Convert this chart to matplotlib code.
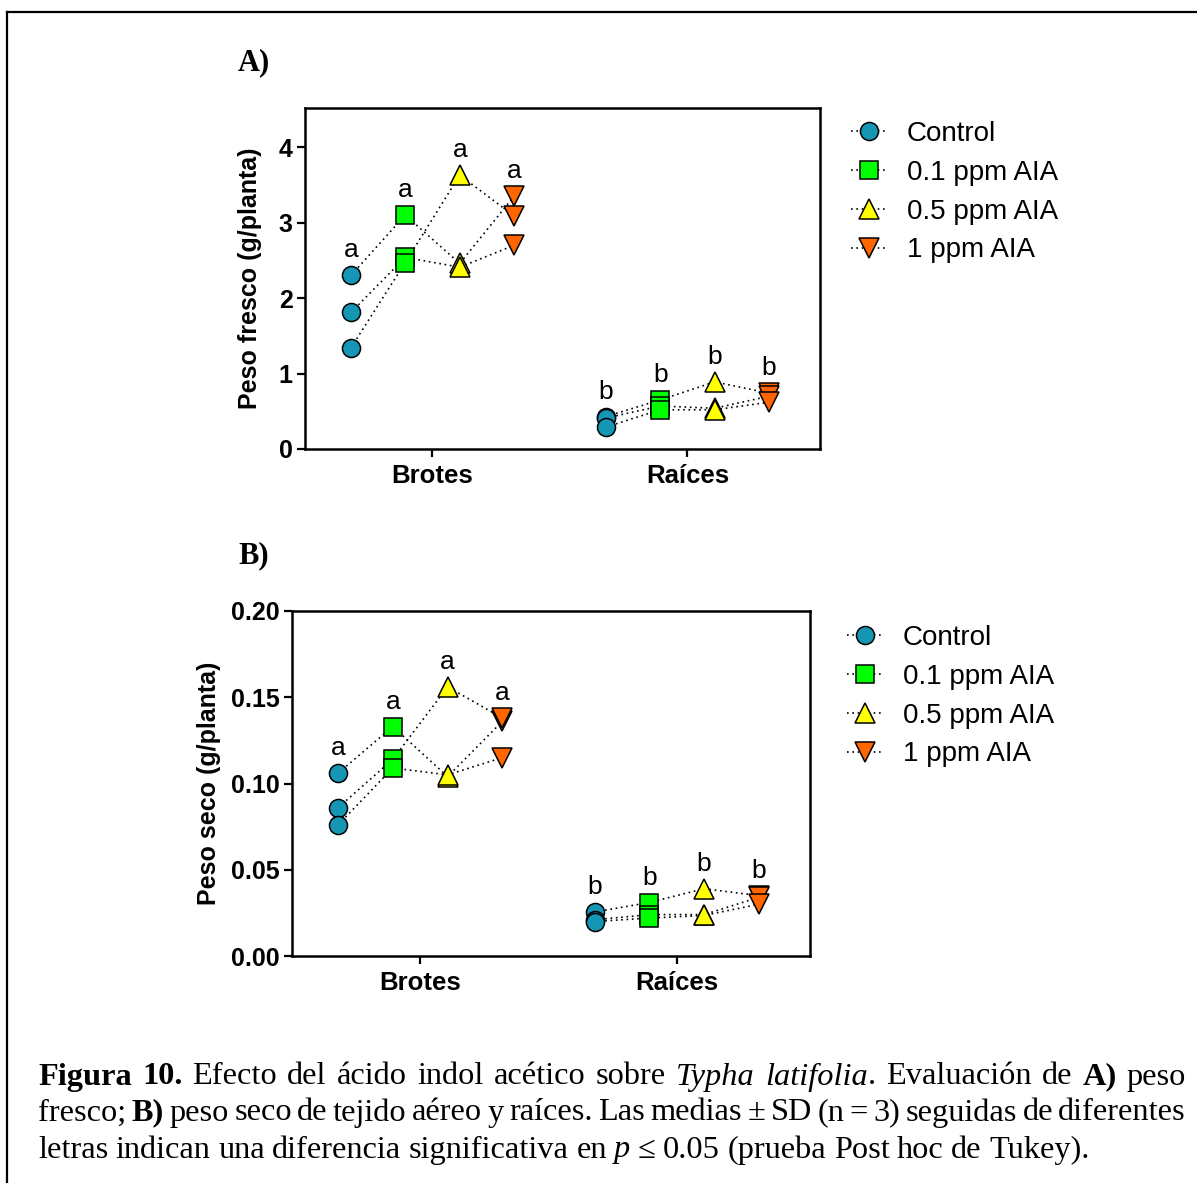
import matplotlib
matplotlib.use("Agg")
import matplotlib.pyplot as plt
from matplotlib.lines import Line2D
import numpy as np

# categories and treatments
tissues = ["Brotes", "Raíces"]
treatments = ["Control", "0.1 ppm AIA", "0.5 ppm AIA", "1 ppm AIA"]
colors = ["#1496b4", "#00ff00", "#ffff00", "#ff6600"]
markers = ["o", "s", "^", "v"]
msizes = [13, 13, 14, 14]

# fresh weight (g/planta), 3 replicates per treatment
fresh_brotes = [[2.30, 1.81, 1.34],
                [3.10, 2.54, 2.47],
                [2.46, 2.41, 3.63],
                [3.35, 2.70, 3.09]]
fresh_raices = [[0.43, 0.41, 0.29],
                [0.65, 0.57, 0.52],
                [0.89, 0.54, 0.52],
                [0.74, 0.70, 0.62]]

# dry weight (g/planta)
dry_brotes = [[0.106, 0.086, 0.076],
              [0.133, 0.114, 0.109],
              [0.104, 0.156, 0.105],
              [0.136, 0.138, 0.115]]
dry_raices = [[0.0255, 0.021, 0.020],
              [0.031, 0.024, 0.022],
              [0.039, 0.024, 0.0235],
              [0.035, 0.034, 0.030]]

letters_brotes = ["a", "a", "a", "a"]
letters_raices = ["b", "b", "b", "b"]

offsets = [-0.32, -0.107, 0.107, 0.32]

W, H = 1197, 1183
fig = plt.figure(figsize=(W / 100, H / 100), dpi=100)

def px(x, y):
    return x / W, 1 - y / H

sans = ["Liberation Sans", "DejaVu Sans"]
serif = ["Liberation Serif", "DejaVu Serif"]


def panel(rect, data, yticks, ylim, fmt, ylabel, legend_at, labelpad):
    ax = fig.add_axes(rect)
    for ti, groups in enumerate(data):
        letters = letters_brotes if ti == 0 else letters_raices
        xs = [ti + o for o in offsets]
        # replicate lines
        for r in range(3):
            ax.plot(xs, [g[r] for g in groups], color="black", ls=(0, (1, 2.2)),
                    lw=1.2, zorder=2)
        for k, g in enumerate(groups):
            ax.plot([xs[k]] * 3, g, ls="none", marker=markers[k], ms=msizes[k],
                    mfc=colors[k], mec="black", mew=1.1, zorder=3)
            ax.annotate(letters[k], (xs[k], max(g)), xytext=(0, 18),
                        textcoords="offset points", ha="center", va="center",
                        fontsize=19, family=sans)
    ax.set_xlim(-0.5, 1.52)
    ax.set_ylim(*ylim)
    ax.set_xticks([0, 1])
    ax.set_xticklabels(tissues, fontsize=18.5, fontweight="bold", family=sans)
    ax.set_yticks(yticks)
    ax.set_yticklabels([fmt % v for v in yticks], fontsize=18,
                       fontweight="bold", family=sans)
    ax.set_ylabel(ylabel, fontsize=18, fontweight="bold", family=sans,
                  labelpad=labelpad)
    for s in ax.spines.values():
        s.set_linewidth(1.8)
    ax.tick_params(width=1.6, length=6, pad=3)
    ax.tick_params(axis="x", pad=5)
    handles = [Line2D([0], [0], color="black", ls=(0, (1, 2.2)), lw=1.2,
                      marker=markers[k], ms=msizes[k], mfc=colors[k],
                      mec="black", mew=1.1) for k in range(4)]
    ax.legend(handles, treatments, loc="upper left", bbox_to_anchor=legend_at,
              bbox_transform=fig.transFigure, frameon=False, borderpad=0,
              borderaxespad=0, handlelength=1.3, handletextpad=0.7,
              labelspacing=0.46, prop={"family": sans, "size": 20},
              numpoints=1)
    return ax


axA = panel([305 / W, 1 - 449 / H, 515 / W, 341 / H],
            [fresh_brotes, fresh_raices], [0, 1, 2, 3, 4], (0, 4.52), "%d",
            "Peso fresco (g/planta)", px(851, 121), 12)
axB = panel([292 / W, 1 - 956 / H, 518 / W, 345 / H],
            [dry_brotes, dry_raices], [0, 0.05, 0.10, 0.15, 0.20], (0, 0.20),
            "%.2f", "Peso seco (g/planta)", px(847, 625), 7)

fig.text(*px(238, 63), "A)", fontsize=22, fontweight="bold", family=serif,
         va="center", ha="left")
fig.text(*px(238, 556), "B)", fontsize=22, fontweight="bold", family=serif,
         va="center", ha="left")

# border lines (left and top)
fig.add_artist(Line2D([7 / W, 7 / W], [0, 1 - 12 / H], color="black", lw=1.6,
                      transform=fig.transFigure))
fig.add_artist(Line2D([7 / W, 1], [1 - 12 / H, 1 - 12 / H], color="black",
                      lw=1.6, transform=fig.transFigure))

# caption, justified
cap_lines = [
    [("Figura 10.", "b"), (" Efecto del ácido indol acético sobre ", "r"),
     ("Typha latifolia", "i"), (". Evaluación de ", "r"), ("A)", "b"),
     (" peso", "r")],
    [("fresco; ", "r"), ("B)", "b"),
     (" peso seco de tejido aéreo y raíces. Las medias ± SD (n = 3) seguidas de diferentes", "r")],
    [("letras indican una diferencia significativa en ", "r"), ("p", "i"),
     (" ≤ 0.05 (prueba Post hoc de Tukey).", "r")],
]
cap_y = [1077, 1113, 1150]
x0, x1 = 38, 1186
renderer = fig.canvas.get_renderer()
styles = {"r": {}, "b": {"fontweight": "bold"}, "i": {"fontstyle": "italic"}}

for li, segs in enumerate(cap_lines):
    words = []
    new_word = True
    for text, st in segs:
        parts = text.split(" ")
        for i, p in enumerate(parts):
            if i > 0:
                new_word = True
            if p == "":
                continue
            if new_word:
                words.append([])
                new_word = False
            words[-1].append((p, st))
    arts = []
    widths = []
    for w in words:
        wa = []
        tot = 0
        for p, st in w:
            t = fig.text(0, 0, p, fontsize=23.3, family=serif, va="center",
                         ha="left", **styles[st])
            bb = t.get_window_extent(renderer)
            wa.append((t, bb.width))
            tot += bb.width
        arts.append(wa)
        widths.append(tot)
    if li < len(cap_lines) - 1:
        gap = (x1 - x0 - sum(widths)) / (len(words) - 1)
    else:
        gap = 7.5
    x = x0
    for wa, ww in zip(arts, widths):
        xx = x
        for t, tw in wa:
            t.set_position(px(xx, cap_y[li]))
            xx += tw
        x += ww + gap

fig.savefig("out.png", dpi=100)
